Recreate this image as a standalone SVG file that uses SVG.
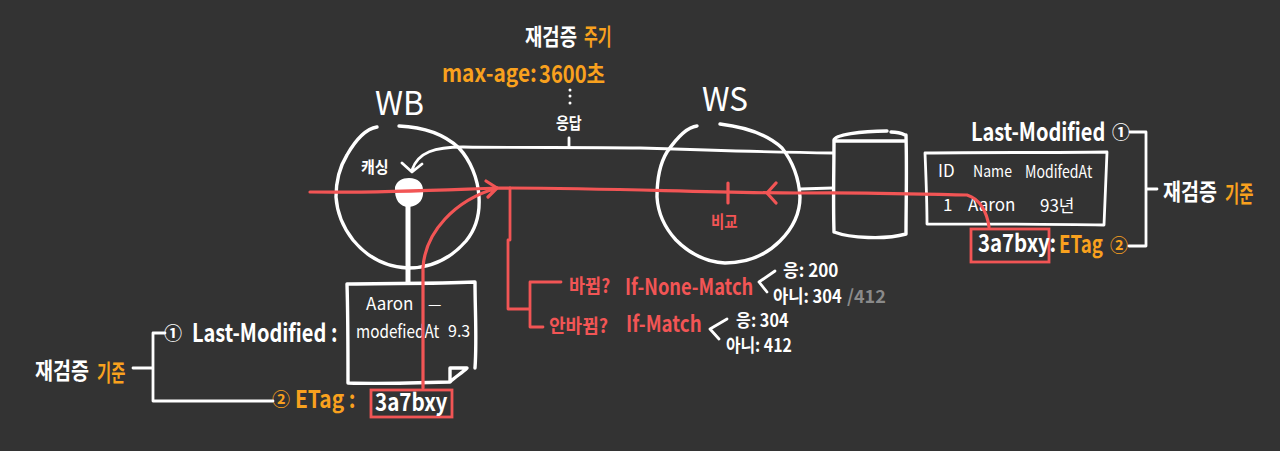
<svg xmlns="http://www.w3.org/2000/svg" width="1280" height="451" viewBox="0 0 1280 451">
<style>
text{font-family:"Noto Sans CJK KR","Noto Sans",sans-serif;font-weight:700;fill:#fff}
.o{fill:#f9a11e}.r{fill:#f25555}.g{fill:#8a8a8a}
.thin{font-weight:400}
.w,.wt,.rl,.rt{fill:none;stroke-linecap:round;stroke-linejoin:round}
.w{stroke:#fff;stroke-width:3.4}
.wt{stroke:#fff;stroke-width:2.8}
.rl{stroke:#f25555;stroke-width:3.2}
.rt{stroke:#f25555;stroke-width:2.8}
</style>
<rect width="1280" height="451" fill="#333333"/>

<g id="wb">
<path class="w" d="M377,127C365,129 355,141 347,155C339,168 336,180 336,197C337,212 342,226 353,240C367,257 385,267 408,268C432,268 452,257 466,241C476,229 480,214 479,197C478,178 470,160 459,148C444,134 423,127 399,126"/>
<text x="375" y="115" font-size="33" textLength="49" lengthAdjust="spacingAndGlyphs" class="thin">WB</text>
<path d="M395,187C397,181 402,178 409,178C418,178 423,183 423,190C424,198 420,206 409,207C400,207 394,200 395,187Z" fill="#fff"/>
<path d="M408,206V284" stroke="#fff" stroke-width="5" fill="none"/>
<text transform="translate(361 173) scale(.94 1)" font-size="16">캐싱</text>
</g>

<g id="ws">
<path class="w" d="M697,126C686,127 676,139 667,152C659,165 657,180 657,197C658,214 665,228 676,240C690,254 706,262 725,263C745,263 765,256 780,241C793,228 800,213 800,197C799,178 793,162 782,148C768,135 745,127 720,124"/>
<text x="702" y="111" font-size="33" textLength="46" lengthAdjust="spacingAndGlyphs" class="thin">WS</text>
<text transform="translate(711 228) scale(.85 1)" font-size="17" class="r">비교</text>
</g>

<g id="db">
<path class="w" d="M834,232C833,200 834,170 834,140C835,135 860,131 887,131M891,132C896,132 901,133 905,135M836,141C860,141 885,141 905,141M906,135C907,170 906,205 906,234M834,232C850,238 885,240 906,234"/>
</g>

<g id="doc">
<path class="w" d="M475,368C477,340 475,310 475,282C430,284 390,283 347,284C348,316 348,350 348,383C382,384 416,383 450,382C455,377 462,373 467,368C461,368 456,368 450,368C450,372 450,378 450,382"/>
<text x="366" y="310" font-size="17" class="thin">Aaron</text>
<text x="428" y="310" font-size="15" class="thin">—</text>
<text transform="translate(356 338) scale(.85 1)" font-size="18" class="thin">modefiedAt</text>
<text x="448" y="337" font-size="16" class="thin">9.3</text>
</g>

<g id="table">
<path class="wt" d="M925,153C985,152 1045,153 1107,152C1106,176 1105,201 1104,225C1045,224 985,224 927,224C927,200 926,177 925,153Z"/>
<text x="938" y="177" font-size="17" class="thin">ID</text>
<text transform="translate(973 177) scale(.88 1)" font-size="16" class="thin">Name</text>
<text transform="translate(1025 178) scale(.83 1)" font-size="17" class="thin">ModifedAt</text>
<text x="943" y="211" font-size="17" class="thin">1</text>
<text x="968" y="211" font-size="17" class="thin">Aaron</text>
<text x="1040" y="212" font-size="17" class="thin">93년</text>
</g>

<g id="top-label">
<text transform="translate(525 45) scale(.82 1)" font-size="23">재검증</text>
<text transform="translate(584 45) scale(.65 1)" font-size="23" class="o">주기</text>
<text transform="translate(442 82) scale(.87 1)" font-size="24" class="o">max-age:</text>
<text transform="translate(539 83) scale(.84 1)" font-size="24" class="o">3600초</text>
<text transform="translate(556 129) scale(.875 1)" font-size="16">응답</text>
</g>

<g id="left-labels">
<text transform="translate(35 379) scale(.85 1)" font-size="23">재검증</text>
<text transform="translate(97 381) scale(.67 1)" font-size="23" class="o">기준</text>
<text x="164" y="340" font-size="18">①</text>
<text transform="translate(192 342) scale(.8 1)" font-size="25">Last-Modified :</text>
<text x="272" y="406" font-size="18" class="o">②</text>
<text transform="translate(295 408) scale(.87 1)" font-size="24" class="o">ETag :</text>
<rect x="371" y="390" width="81" height="27" fill="none" stroke="#f25555" stroke-width="2.8"/>
<text transform="translate(375 411) scale(.86 1)" font-size="24">3a7bxy</text>
</g>

<g id="right-labels">
<text transform="translate(971 141) scale(.8 1)" font-size="25">Last-Modified</text>
<text x="1112" y="139" font-size="18">①</text>
<rect x="971" y="229" width="78" height="33" fill="none" stroke="#f25555" stroke-width="2.8"/>
<text transform="translate(978 252) scale(.85 1)" font-size="24">3a7bxy:</text>
<text transform="translate(1059 253) scale(.78 1)" font-size="24" class="o">ETag</text>
<text x="1110" y="252" font-size="18" class="o">②</text>
<text transform="translate(1163 200) scale(.85 1)" font-size="23">재검증</text>
<text transform="translate(1225 202) scale(.67 1)" font-size="23" class="o">기준</text>
</g>

<g id="conditions">
<text transform="translate(569 293) scale(.92 1)" font-size="19" class="r">바뀜?</text>
<text transform="translate(625 295) scale(.83 1)" font-size="22" class="r">If-None-Match</text>
<text transform="translate(549 333) scale(.95 1)" font-size="19" class="r">안바뀜?</text>
<text transform="translate(626 332) scale(.85 1)" font-size="22" class="r">If-Match</text>
<text transform="translate(783 277) scale(.95 1)" font-size="18">응: 200</text>
<text transform="translate(773 303) scale(.92 1)" font-size="18">아니: 304</text>
<text x="847" y="303" font-size="18" class="g">/412</text>
<text transform="translate(736 327) scale(.9 1)" font-size="18">응: 304</text>
<text transform="translate(726 352) scale(.88 1)" font-size="18">아니: 412</text>
</g>

<g id="connectors">
<path class="wt" d="M833,153C760,152 700,150 640,148C580,147 520,148 463,147C435,147 418,152 412,170M402,163L412,172L422,164"/>
<path class="wt" d="M569,138V147"/>
<path d="M570,90v.1M570,96v.1M570,103v.1" stroke="#fff" stroke-width="3" stroke-linecap="round" fill="none"/>
<path class="wt" d="M800,189L833,188"/>
<path class="wt" d="M133,368H153M165,333H153V401H273"/>
<path class="wt" d="M1130,132H1146V246H1129M1146,189H1157"/>
<path class="wt" d="M775,271L759,282L767,292M727,319L710,329L719,339"/>
<path class="rl" d="M310,192C380,193 440,190 497,188C620,188 700,193 800,193C860,192 920,194 967,195C980,199 987,212 989,227"/>
<path class="rl" d="M486,181L497,188L488,197M423,388V268C425,232 455,200 497,188"/>
<path class="rl" d="M728,183V203M776,183L767,193L776,203"/>
<path class="rt" d="M510,188V240M508,240V309H530M561,282H530V327H543"/>
</g>
</svg>
